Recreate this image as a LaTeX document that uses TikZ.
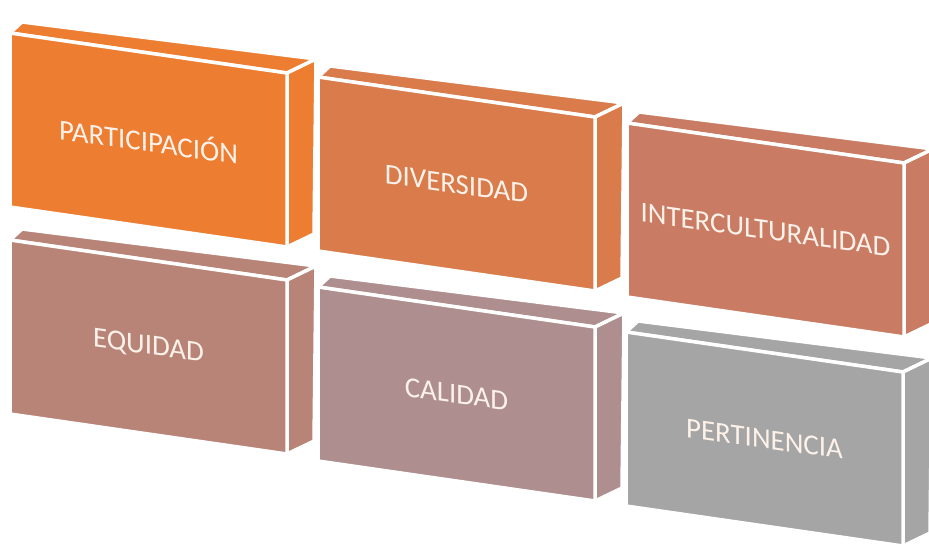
\documentclass[tikz,border=0pt]{standalone}
\usepackage{fontspec}
\setmainfont{Carlito}
\usepackage{tikz}
\definecolor{brickA}{RGB}{237,125,49}
\definecolor{brickB}{RGB}{217,123,74}
\definecolor{brickC}{RGB}{201,123,99}
\definecolor{brickD}{RGB}{185,132,120}
\definecolor{brickE}{RGB}{174,142,142}
\definecolor{brickF}{RGB}{165,165,165}
\definecolor{labelcol}{RGB}{253,242,234}
% #1 name, #2 x, #3 y, #4 fill, #5 text
\newcommand{\brick}[5]{%
  \begin{scope}[shift={(#2,#3)}]
    \filldraw[face,fill=#4] (0,0) -- (12,-11) -- (306,26) -- (277,40) -- cycle;
    \filldraw[face,fill=#4] (277,40) -- (306,26) -- (304,201) -- (277,214) -- cycle;
    \filldraw[face,fill=#4] (0,0) -- (277,40) -- (277,214) -- (0,174) -- cycle;
    \node[brickText] (#1) at (138.5,107) {#5};
  \end{scope}}

\begin{document}
\begin{tikzpicture}[x=1bp, y=-1bp,
    face/.style={draw=white, line width=3.5bp, line join=round},
    brickText/.style={text=labelcol, yslant=-0.14, font=\fontsize{29}{32}\selectfont}]
	\useasboundingbox (0,0) rectangle (929,546);
	\brick{equidad}{10}{240}{brickD}{EQUIDAD}
	\brick{calidad}{318}{287}{brickE}{CALIDAD}
	\brick{pertinencia}{626}{332}{brickF}{PERTINENCIA}
	\brick{participacion}{10}{33}{brickA}{PARTICIPACIÓN}
	\brick{diversidad}{318}{77}{brickB}{DIVERSIDAD}
	\brick{intercult}{627}{123}{brickC}{INTERCULTURALIDAD}
\end{tikzpicture}
\end{document}
